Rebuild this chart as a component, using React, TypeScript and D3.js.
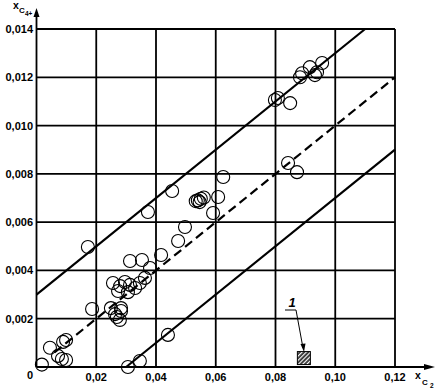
import React from 'react';
import * as d3 from 'd3';

// measured points, x = x(C2), y = x(C4+)
const pointX = [
  0.0018, 0.0045, 0.0089, 0.0099, 0.0072, 0.0085, 0.0099, 0.0186, 0.0249, 0.0283,
  0.0279, 0.0269, 0.0263, 0.0283, 0.0172, 0.0373, 0.0313, 0.0353, 0.0417, 0.038,
  0.0256, 0.028, 0.0296, 0.0313, 0.033, 0.0346, 0.0363, 0.0273, 0.0306, 0.0474,
  0.0497, 0.0454, 0.0625, 0.054, 0.055, 0.056, 0.0546, 0.0533, 0.0608, 0.0591,
  0.0798, 0.0808, 0.0849, 0.0889, 0.0882, 0.0915, 0.0932, 0.0956, 0.0939, 0.0842,
  0.0872, 0.0306, 0.0346, 0.044,
];
const pointY = [
  0.0001, 0.0008, 0.00104, 0.00112, 0.00046, 0.00033, 0.00029, 0.0024, 0.00244, 0.00244,
  0.00195, 0.00207, 0.00219, 0.00232, 0.00497, 0.00642, 0.00439, 0.00443, 0.00464, 0.0041,
  0.00348, 0.00335, 0.00352, 0.0034, 0.00327, 0.00348, 0.00369, 0.00315, 0.0031, 0.00522,
  0.0058, 0.00729, 0.00787, 0.0069, 0.00697, 0.00702, 0.00683, 0.00687, 0.00704, 0.00638,
  0.01106, 0.01114, 0.01093, 0.01217, 0.012, 0.01242, 0.01209, 0.01259, 0.01221, 0.00845,
  0.00807, 0.0, 0.00025, 0.00133,
];

// reference lines: [x1, y1, x2, y2]
const upperLine = [0, 0.003, 0.11, 0.014];
const midLine = [0.006, 0.0006, 0.12, 0.012];
const lowerLine = [0.03, 0, 0.12, 0.009];

const xTicks = [0.02, 0.04, 0.06, 0.08, 0.1, 0.12];
const yTicks = [0.002, 0.004, 0.006, 0.008, 0.01, 0.012, 0.014];
const xTickLabels = ['0,02', '0,04', '0,06', '0,08', '0,10', '0,12'];
const yTickLabels = ['0,002', '0,004', '0,006', '0,008', '0,010', '0,012', '0,014'];

// hatched marker "1"
const markerX = 0.0895;
const markerY = 0.00037;

export default function App() {
  const x = d3.scaleLinear().domain([0, 0.12]).range([36.5, 395]);
  const y = d3.scaleLinear().domain([0, 0.014]).range([367, 29]);
  const font = 'Liberation Sans, Arial, sans-serif';

  const seg = (l: number[], dash?: string) => (
    <line
      x1={x(l[0])} y1={y(l[1])} x2={x(l[2])} y2={y(l[3])}
      stroke="#000" strokeWidth={2.2} strokeDasharray={dash}
    />
  );

  const mx = x(markerX);
  const my = y(markerY);

  return (
    <svg width={438} height={389} style={{ position: 'absolute', left: 0, top: 0, background: '#fff' }}>
      <defs>
        <pattern id="hatch" width="3" height="3" patternUnits="userSpaceOnUse" patternTransform="rotate(45)">
          <rect width="3" height="3" fill="#333" />
          <line x1="0.5" y1="0" x2="0.5" y2="3" stroke="#fff" strokeWidth="1.3" />
        </pattern>
      </defs>
      <rect width={438} height={389} fill="#fff" />

      {/* grid */}
      {xTicks.map((t) => (
        <line key={'gx' + t} x1={x(t)} x2={x(t)} y1={y(0)} y2={y(0.014)} stroke="#000" strokeWidth={1.8} />
      ))}
      {yTicks.map((t) => (
        <line key={'gy' + t} x1={x(0)} x2={x(0.12)} y1={y(t)} y2={y(t)} stroke="#000" strokeWidth={1.8} />
      ))}

      {/* axes with arrows */}
      <line x1={x(0)} x2={x(0)} y1={y(0)} y2={12} stroke="#000" strokeWidth={1.8} />
      <path d={`M${x(0)},8 L${x(0) - 3},17 L${x(0) + 3},17 Z`} fill="#000" />
      <line x1={x(0)} x2={428} y1={y(0)} y2={y(0)} stroke="#000" strokeWidth={1.8} />
      <path d={`M435,${y(0)} L424,${y(0) - 3} L424,${y(0) + 3} Z`} fill="#000" />

      {seg(upperLine)}
      {seg(midLine, '9 5')}
      {seg(lowerLine)}

      {pointX.map((px, i) => (
        <circle key={i} cx={x(px)} cy={y(pointY[i])} r={6.5} fill="none" stroke="#000" strokeWidth={1.1} />
      ))}

      {/* marker 1 */}
      <rect x={mx - 6.5} y={my - 6.5} width={13} height={13} fill="url(#hatch)" stroke="#000" strokeWidth={1} />
      <text x={292} y={307} fontFamily={font} fontSize={13} fontWeight="bold" fontStyle="italic" textAnchor="middle">1</text>
      <line x1={285} y1={310} x2={296} y2={310} stroke="#000" strokeWidth={1} />
      <line x1={296} y1={310} x2={303} y2={348} stroke="#000" strokeWidth={1} />
      <path d="M304,352 L300.5,344 L305.5,343.5 Z" fill="#000" />

      {/* tick labels */}
      <g fontFamily={font} fontSize={11} fontWeight="bold" fill="#000">
        {xTicks.map((t, i) => (
          <text key={'tx' + t} x={x(t)} y={381} textAnchor="middle">{xTickLabels[i]}</text>
        ))}
        {yTicks.map((t, i) => (
          <text key={'ty' + t} x={33} y={y(t) + 4} textAnchor="end">{yTickLabels[i]}</text>
        ))}
        <text x={30} y={379} textAnchor="middle">0</text>
      </g>

      {/* axis titles */}
      <g fontFamily={font} fontWeight="bold" fill="#000">
        <text x={13} y={9} fontSize={10.5}>x</text>
        <text x={19} y={13} fontSize={8}>C</text>
        <text x={25} y={16} fontSize={6.5}>4+</text>
        <text x={415} y={379} fontSize={10.5}>x</text>
        <text x={422} y={385} fontSize={8}>C</text>
        <text x={430} y={388} fontSize={6.5}>2</text>
      </g>
    </svg>
  );
}
